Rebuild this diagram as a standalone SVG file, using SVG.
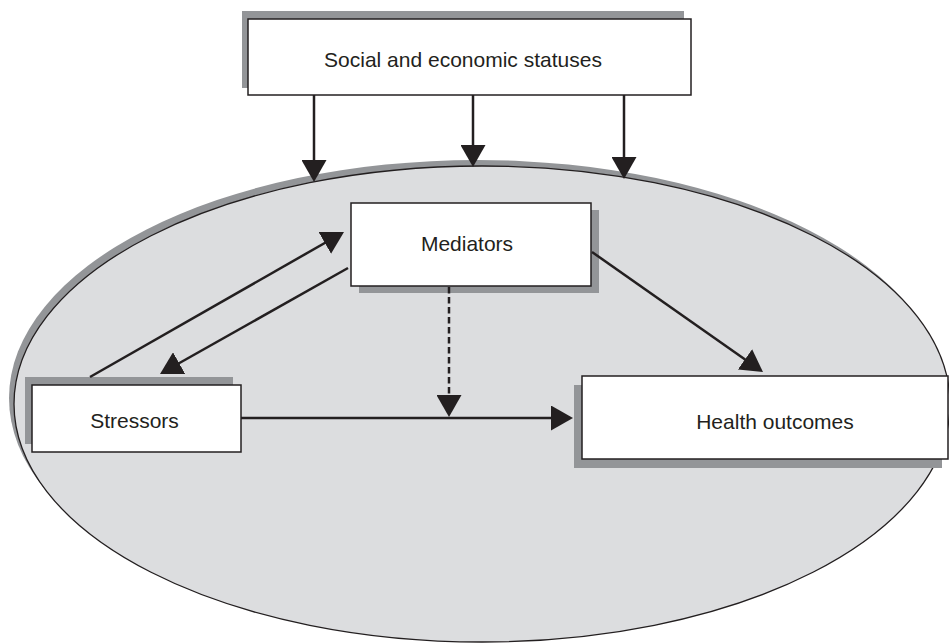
<svg xmlns="http://www.w3.org/2000/svg" width="949" height="643" viewBox="0 0 949 643">
<style>
.box{fill:#ffffff;stroke:#231f20;stroke-width:1.5}
.shadow{fill:#939598}
.lbl{font-family:"Liberation Sans",Arial,sans-serif;font-size:21px;fill:#231f20;text-anchor:middle}
.conn{stroke:#231f20;stroke-width:2.5;fill:none;marker-end:url(#arr)}
.dash{stroke-dasharray:6.5 3.5}
</style>
<defs>
<marker id="arr" viewBox="0 0 22 25" refX="18" refY="12.5" markerWidth="22" markerHeight="25" markerUnits="userSpaceOnUse" orient="auto">
<path d="M0,0 L22,12.5 L0,25 Z" fill="#231f20"/>
</marker>
</defs>
<rect width="949" height="643" fill="#ffffff"/>
<g id="context">
<ellipse cx="477" cy="398" rx="468" ry="238" fill="#939598"/>
<ellipse cx="482" cy="404" rx="468" ry="238" fill="#dcdddf" stroke="#231f20" stroke-width="1.3"/>
</g>
<g id="social">
<rect class="shadow" x="242" y="11" width="442" height="77"/>
<rect class="box" x="248" y="19" width="443" height="76"/>
<text class="lbl" x="463" y="66.5">Social and economic statuses</text>
</g>
<g id="mediators">
<rect class="shadow" x="359" y="210" width="240" height="83"/>
<rect class="box" x="351" y="203" width="240" height="83"/>
<text class="lbl" x="467" y="250.5">Mediators</text>
</g>
<g id="stressors">
<rect class="shadow" x="25" y="377" width="208" height="67"/>
<rect class="box" x="32" y="385" width="209" height="67"/>
<text class="lbl" x="134.5" y="427.5">Stressors</text>
</g>
<g id="health">
<rect class="shadow" x="574" y="385" width="368" height="83"/>
<rect class="box" x="582" y="376" width="366" height="83"/>
<text class="lbl" x="775" y="428.5">Health outcomes</text>
</g>
<g id="connectors">
<line class="conn" x1="314" y1="95" x2="314" y2="178"/>
<line class="conn" x1="473" y1="95" x2="473" y2="163"/>
<line class="conn" x1="624" y1="95" x2="624" y2="175"/>
<line class="conn" x1="90" y1="377" x2="340.5" y2="234"/>
<line class="conn" x1="348" y1="268" x2="163.5" y2="372"/>
<line class="conn" x1="592" y1="252" x2="759.7" y2="369.7"/>
<line class="conn" x1="241" y1="418" x2="569" y2="418"/>
<line class="conn dash" x1="449" y1="287" x2="449" y2="413"/>
</g>
</svg>
